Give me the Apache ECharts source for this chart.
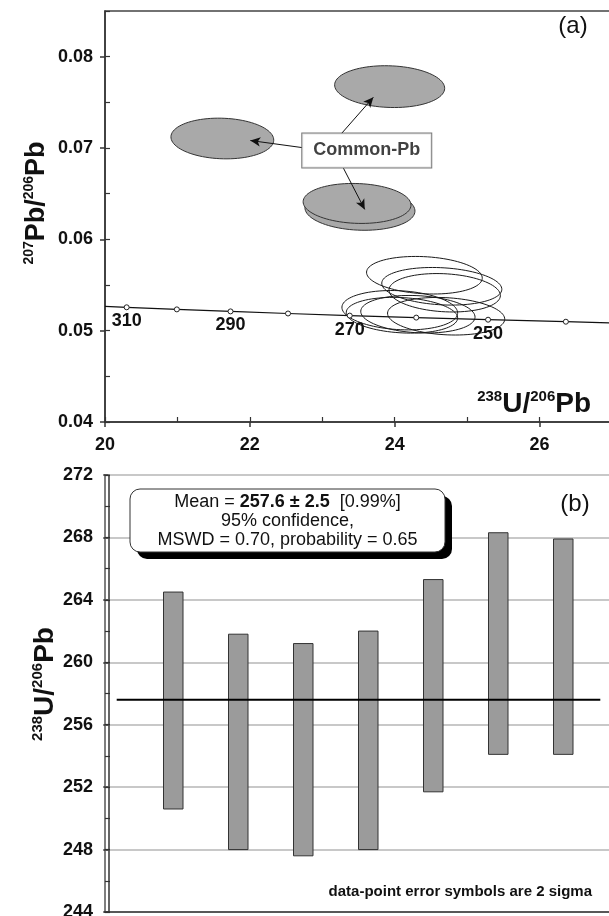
<!DOCTYPE html>
<html>
<head>
<meta charset="utf-8">
<script src="https://cdn.jsdelivr.net/npm/echarts@6.0.0/dist/echarts.min.js"></script>
<style>
html, body { margin: 0; padding: 0; background: #fff; }
#main { width: 609px; height: 916px; }
</style>
</head>
<body>
<div id="main"></div>
<script>
var FONT = '"Liberation Sans", Arial, Helvetica, sans-serif';

// (a) concordia, age ticks in Ma
var concordiaAges = [310, 300, 290, 280, 270, 260, 250, 240];
var concordiaU = [20.299, 20.992, 21.733, 22.527, 23.379, 24.297, 25.289, 26.363];
var concordiaPb = [0.05256, 0.05233, 0.05211, 0.05188, 0.05165, 0.05143, 0.05120, 0.05098];
var labelledAges = [310, 290, 270, 250];
// concordia curve across the plot
var curveU = [20.0, 20.299, 20.992, 21.733, 22.527, 23.379, 24.297, 25.289, 26.363, 27.0];
var curvePb = [0.05266, 0.05256, 0.05233, 0.05211, 0.05188, 0.05165, 0.05143, 0.05120, 0.05098, 0.05085];

// (a) analysis ellipses (open): centre and semi-axes
var ellU = [24.41, 24.65, 24.69, 24.07, 24.10, 24.32, 24.71];
var ellPb = [0.05607, 0.05486, 0.05415, 0.05224, 0.05169, 0.05180, 0.05158];
var ellRU = [0.80, 0.83, 0.77, 0.80, 0.77, 0.79, 0.81];
var ellRPb = [0.00203, 0.00203, 0.00208, 0.00213, 0.00193, 0.00203, 0.00203];

// (a) common-Pb affected ellipses (filled)
var cpU = [23.52, 23.48, 21.62, 23.93];
var cpPb = [0.06328, 0.06393, 0.07104, 0.07672];
var cpRU = [0.76, 0.745, 0.71, 0.76];
var cpRPb = [0.00228, 0.00218, 0.00222, 0.00228];

// arrows from the "Common-Pb" box
var arrowFrom = [[22.717, 0.07005], [23.265, 0.07158], [23.292, 0.06779]];
var arrowTo = [[22.007, 0.07082], [23.705, 0.07555], [23.586, 0.06328]];
var boxAt = [23.614, 0.06973];

// (b) 2-sigma age bars
var barIndex = [1, 2, 3, 4, 5, 6, 7];
var barLow = [250.6, 248.0, 247.6, 248.0, 251.7, 254.1, 254.1];
var barHigh = [264.5, 261.8, 261.2, 262.0, 265.3, 268.3, 267.9];
var meanAge = 257.6;
var meanSpan = [0.13, 7.57];

var chartDom = document.getElementById('main');
var myChart = echarts.init(chartDom);
var option;

function ellipseRender(fill, stroke, tilt) {
    return function (params, api) {
        var c = api.coord([api.value(0), api.value(1)]);
        var s = api.size([api.value(2), api.value(3)]);
        var ct = Math.cos(tilt), st = Math.sin(tilt);
        var pts = [];
        for (var k = 0; k < 90; k++) {
            var t = k / 90 * 2 * Math.PI;
            var dx = s[0] * Math.cos(t), dy = s[1] * Math.sin(t);
            pts.push([c[0] + dx * ct - dy * st, c[1] + dx * st + dy * ct]);
        }
        return {
            type: 'polygon',
            shape: { points: pts },
            style: { fill: fill, stroke: stroke, lineWidth: 1 }
        };
    };
}

function zip(a, b) {
    return a.map(function (v, i) { return [v, b[i]]; });
}

var labelBold = { color: '#111', fontFamily: FONT, fontWeight: 'bold', fontSize: 18 };
var supRich = {
    s: { fontSize: 15, fontWeight: 'bold', fontFamily: FONT, lineHeight: 16, verticalAlign: 'top', fill: '#111' },
    b: { fontSize: 28, fontWeight: 'bold', fontFamily: FONT, lineHeight: 30, fill: '#111' }
};
var supRichA = {
    s: { fontSize: 14, fontWeight: 'bold', fontFamily: FONT, lineHeight: 15, verticalAlign: 'top', fill: '#111' },
    b: { fontSize: 27, fontWeight: 'bold', fontFamily: FONT, lineHeight: 29, fill: '#111' }
};

option = {
    animation: false,
    backgroundColor: '#fff',
    grid: [
        { left: 105, top: 11, width: 507, height: 411, show: true, borderColor: '#444', borderWidth: 1.5, backgroundColor: 'transparent', outerBoundsMode: 'none' },
        { left: 105, top: 475, width: 507, height: 437, show: true, borderColor: '#555', borderWidth: 1.5, backgroundColor: 'transparent', outerBoundsMode: 'none' }
    ],
    xAxis: [
        {
            gridIndex: 0, type: 'value', position: 'bottom', min: 20, max: 27, interval: 2,
            axisLine: { show: true, lineStyle: { color: '#333', width: 1.5 } },
            axisTick: { show: true, inside: false, length: 5, lineStyle: { color: '#333', width: 1.5 } },
            axisLabel: Object.assign({ margin: 14, showMaxLabel: false }, labelBold),
            splitLine: { show: false }
        },
        {
            gridIndex: 0, type: 'value', position: 'bottom', min: 20, max: 27, interval: 1,
            axisLine: { show: false },
            axisTick: { show: true, inside: true, length: 5, lineStyle: { color: '#333', width: 1.2 } },
            axisLabel: { show: false },
            splitLine: { show: false }
        },
        {
            gridIndex: 1, type: 'value', position: 'bottom', min: -0.05, max: 7.75,
            axisLine: { show: true, lineStyle: { color: '#333', width: 1.5 } },
            axisTick: { show: false },
            axisLabel: { show: false },
            splitLine: { show: false }
        }
    ],
    yAxis: [
        {
            gridIndex: 0, type: 'value', position: 'left', min: 0.04, max: 0.085, interval: 0.01,
            axisLine: { show: true, lineStyle: { color: '#333', width: 1.5 } },
            axisTick: { show: true, inside: false, length: 5, lineStyle: { color: '#333', width: 1.5 } },
            axisLabel: Object.assign({
                margin: 12, showMaxLabel: false,
                formatter: function (v) { return v.toFixed(2); }
            }, labelBold),
            splitLine: { show: false }
        },
        {
            gridIndex: 0, type: 'value', position: 'left', min: 0.04, max: 0.085, interval: 0.005,
            axisLine: { show: false },
            axisTick: { show: true, inside: true, length: 5, lineStyle: { color: '#333', width: 1.2 } },
            axisLabel: { show: false },
            splitLine: { show: false }
        },
        {
            gridIndex: 1, type: 'value', position: 'left', min: 244, max: 272, interval: 4,
            axisLine: { show: true, lineStyle: { color: '#333', width: 1.5 } },
            axisTick: { show: true, inside: false, length: 5, lineStyle: { color: '#333', width: 1.5 } },
            axisLabel: Object.assign({ margin: 12 }, labelBold),
            splitLine: { show: true, lineStyle: { color: '#c8c8c8', width: 2 } }
        },
        {
            gridIndex: 1, type: 'value', position: 'left', min: 244, max: 272, interval: 2,
            axisLine: { show: false },
            axisTick: { show: true, inside: true, length: 5, lineStyle: { color: '#333', width: 1.2 } },
            axisLabel: { show: false },
            splitLine: { show: false }
        }
    ],
    graphic: [
        { type: 'text', z: 100, x: 573, y: 26, style: { text: '(a)', fontFamily: FONT, fontSize: 24, fill: '#111', align: 'center', verticalAlign: 'middle' } },
        { type: 'text', z: 100, x: 575, y: 504, style: { text: '(b)', fontFamily: FONT, fontSize: 24, fill: '#111', align: 'center', verticalAlign: 'middle' } },
        { type: 'text', z: 100, x: 591, y: 404, style: { text: '{s|238}{b|U/}{s|206}{b|Pb}', rich: supRich, align: 'right', verticalAlign: 'middle' } },
        { type: 'text', z: 100, x: 37, y: 203, rotation: Math.PI / 2, style: { text: '{s|207}{b|Pb/}{s|206}{b|Pb}', rich: supRichA, align: 'center', verticalAlign: 'middle' } },
        { type: 'text', z: 100, x: 45, y: 684, rotation: Math.PI / 2, style: { text: '{s|238}{b|U/}{s|206}{b|Pb}', rich: supRich, align: 'center', verticalAlign: 'middle' } },
        { type: 'rect', z: 100, shape: { x: 137, y: 496, width: 315, height: 63, r: 10 }, style: { fill: '#000' } },
        { type: 'rect', z: 101, shape: { x: 130, y: 489, width: 315, height: 63, r: 10 }, style: { fill: '#fff', stroke: '#333', lineWidth: 1 } },
        {
            type: 'text', z: 102, x: 287.5, y: 521,
            style: {
                text: '{n|Mean = }{b|257.6 ± 2.5}{n|  [0.99%]}\n{n|95% confidence,}\n{n|MSWD = 0.70, probability = 0.65}',
                align: 'center', verticalAlign: 'middle',
                rich: {
                    n: { fontFamily: FONT, fontSize: 18, lineHeight: 19, fill: '#111' },
                    b: { fontFamily: FONT, fontSize: 18, lineHeight: 19, fontWeight: 'bold', fill: '#111' }
                }
            }
        },
        { type: 'text', z: 100, x: 592, y: 892, style: { text: 'data-point error symbols are 2 sigma', fontFamily: FONT, fontSize: 15, fontWeight: 'bold', fill: '#111', align: 'right', verticalAlign: 'middle' } }
    ],
    series: [
        {
            type: 'line', xAxisIndex: 0, yAxisIndex: 0, z: 3,
            data: zip(curveU, curvePb),
            showSymbol: false,
            lineStyle: { color: '#111', width: 1.2 },
            markLine: {
                silent: true, animation: false,
                symbol: ['none', 'arrow'], symbolSize: [7, 10],
                lineStyle: { color: '#111', width: 1, type: 'solid' },
                label: { show: false },
                emphasis: { disabled: true },
                data: arrowFrom.map(function (p, i) {
                    return [{ coord: p }, { coord: arrowTo[i] }];
                })
            }
        },
        {
            type: 'custom', xAxisIndex: 0, yAxisIndex: 0, z: 2,
            renderItem: ellipseRender('#a9a9a9', '#333', 0.035),
            encode: { x: 0, y: 1 },
            data: cpU.map(function (u, i) { return [u, cpPb[i], cpRU[i], cpRPb[i]]; })
        },
        {
            type: 'custom', xAxisIndex: 0, yAxisIndex: 0, z: 4,
            renderItem: ellipseRender('none', '#1a1a1a', 0.055),
            encode: { x: 0, y: 1 },
            data: ellU.map(function (u, i) { return [u, ellPb[i], ellRU[i], ellRPb[i]]; })
        },
        {
            type: 'scatter', xAxisIndex: 0, yAxisIndex: 0, z: 5,
            symbol: 'circle', symbolSize: 5,
            itemStyle: { color: '#fff', borderColor: '#222', borderWidth: 1, opacity: 1 },
            data: concordiaU.map(function (u, i) { return [u, concordiaPb[i], concordiaAges[i]]; }),
            encode: { x: 0, y: 1 },
            label: {
                show: true, position: 'bottom', distance: 2,
                color: '#111', fontFamily: FONT, fontWeight: 'bold', fontSize: 18,
                formatter: function (p) {
                    return labelledAges.indexOf(p.value[2]) >= 0 ? String(p.value[2]) : '';
                }
            }
        },
        {
            type: 'scatter', xAxisIndex: 0, yAxisIndex: 0, z: 10,
            symbolSize: 1, itemStyle: { color: 'rgba(0,0,0,0)' },
            data: [boxAt],
            label: {
                show: true, position: 'inside', formatter: 'Common-Pb',
                color: '#111', fontFamily: FONT, fontWeight: 'bold', fontSize: 18, lineHeight: 18,
                backgroundColor: '#fff', borderColor: '#555', borderWidth: 1, padding: [8, 11]
            }
        },
        {
            type: 'custom', xAxisIndex: 2, yAxisIndex: 2, z: 3,
            encode: { x: 0, y: [1, 2] },
            data: barIndex.map(function (x, i) { return [x, barLow[i], barHigh[i]]; }),
            renderItem: function (params, api) {
                var top = api.coord([api.value(0), api.value(2)]);
                var bot = api.coord([api.value(0), api.value(1)]);
                var w = api.size([0.3, 0])[0];
                return {
                    type: 'rect',
                    shape: { x: top[0] - w / 2, y: top[1], width: w, height: bot[1] - top[1] },
                    style: { fill: '#9b9b9b', stroke: '#333', lineWidth: 1 }
                };
            }
        },
        {
            type: 'line', xAxisIndex: 2, yAxisIndex: 2, z: 6,
            data: [[meanSpan[0], meanAge], [meanSpan[1], meanAge]],
            showSymbol: false,
            lineStyle: { color: '#000', width: 2 }
        }
    ]
};

option && myChart.setOption(option);
</script>
</body>
</html>
